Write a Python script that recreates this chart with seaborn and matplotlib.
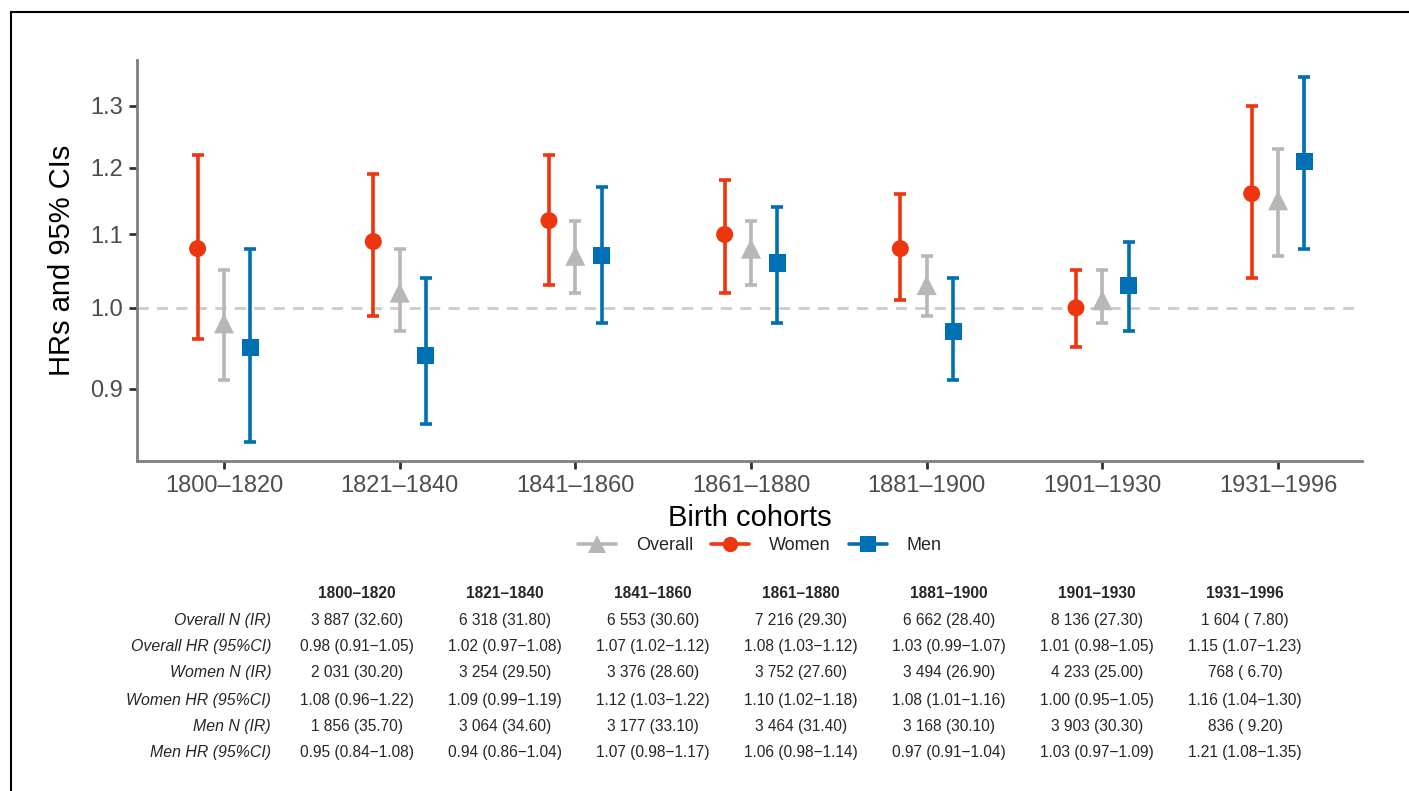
import numpy as np
import pandas as pd
import matplotlib
matplotlib.use("Agg")
import matplotlib.pyplot as plt
from matplotlib.lines import Line2D
from matplotlib.patches import Rectangle
import seaborn as sns

cohorts = ["1800\u20131820", "1821\u20131840", "1841\u20131860", "1861\u20131880",
           "1881\u20131900", "1901\u20131930", "1931\u20131996"]

overall_hr = [0.98, 1.02, 1.07, 1.08, 1.03, 1.01, 1.15]
overall_lo = [0.91, 0.97, 1.02, 1.03, 0.99, 0.98, 1.07]
overall_hi = [1.05, 1.08, 1.12, 1.12, 1.07, 1.05, 1.23]
overall_n = ["3 887 (32.60)", "6 318 (31.80)", "6 553 (30.60)", "7 216 (29.30)",
             "6 662 (28.40)", "8 136 (27.30)", "1 604 ( 7.80)"]

women_hr = [1.08, 1.09, 1.12, 1.10, 1.08, 1.00, 1.16]
women_lo = [0.96, 0.99, 1.03, 1.02, 1.01, 0.95, 1.04]
women_hi = [1.22, 1.19, 1.22, 1.18, 1.16, 1.05, 1.30]
women_n = ["2 031 (30.20)", "3 254 (29.50)", "3 376 (28.60)", "3 752 (27.60)",
           "3 494 (26.90)", "4 233 (25.00)", "768 ( 6.70)"]

men_hr = [0.95, 0.94, 1.07, 1.06, 0.97, 1.03, 1.21]
men_lo = [0.84, 0.86, 0.98, 0.98, 0.91, 0.97, 1.08]
men_hi = [1.08, 1.04, 1.17, 1.14, 1.04, 1.09, 1.35]
men_n = ["1 856 (35.70)", "3 064 (34.60)", "3 177 (33.10)", "3 464 (31.40)",
         "3 168 (30.10)", "3 903 (30.30)", "836 ( 9.20)"]

yticks = [0.9, 1.0, 1.1, 1.2, 1.3]
row_labels = ["Overall N (IR)", "Overall HR (95%CI)", "Women N (IR)",
              "Women HR (95%CI)", "Men N (IR)", "Men HR (95%CI)"]

groups = ["Women", "Overall", "Men"]
colors = {"Overall": "#B9B6B6", "Women": "#EE360E", "Men": "#0070B4"}
markers = {"Overall": "^", "Women": "o", "Men": "s"}
msize = {"Overall": 210, "Women": 150, "Men": 150}
offsets = {"Women": -0.15, "Overall": 0.0, "Men": 0.15}

rows = []
for g, hr, lo, hi in [("Overall", overall_hr, overall_lo, overall_hi),
                      ("Women", women_hr, women_lo, women_hi),
                      ("Men", men_hr, men_lo, men_hi)]:
    for i, c in enumerate(cohorts):
        rows.append(dict(group=g, cohort=c, idx=i, hr=hr[i], lo=lo[i], hi=hi[i]))
df = pd.DataFrame(rows)
df["x"] = df["idx"] + df["group"].map(offsets)

sns.set_theme(style="white")
plt.rcParams["font.family"] = ["Liberation Sans", "DejaVu Sans"]

W, H = 1409, 791
fig = plt.figure(figsize=(W / 100, H / 100), dpi=100)
ax = fig.add_axes([137 / W, 1 - 461 / H, (1362 - 137) / W, (461 - 60) / H])

ax.set_yscale("log")
ax.axhline(1.0, color="#CCCCCC", lw=2, ls=(0, (4, 3)), zorder=1)

for g in groups:
    sub = df[df.group == g]
    ax.errorbar(sub["x"], sub["hr"],
                yerr=[sub["hr"] - sub["lo"], sub["hi"] - sub["hr"]],
                fmt="none", ecolor=colors[g], elinewidth=2.6, capsize=4.5,
                capthick=2.6, zorder=2)
    sns.scatterplot(data=sub, x="x", y="hr", ax=ax, color=colors[g],
                    marker=markers[g], s=msize[g], edgecolor="none",
                    linewidth=0, zorder=3, legend=False)

ax.set_ylim(0.8195, 1.380)
ax.set_xlim(-0.495, 6.478)
ax.set_xticks(range(len(cohorts)))
ax.set_xticklabels(cohorts)
ax.yaxis.set_major_locator(matplotlib.ticker.FixedLocator(yticks))
ax.yaxis.set_minor_locator(matplotlib.ticker.NullLocator())
ax.set_yticklabels([f"{v:.1f}" for v in yticks])

for s in ["top", "right"]:
    ax.spines[s].set_visible(False)
for s in ["left", "bottom"]:
    ax.spines[s].set_color("#7F7F7F")
    ax.spines[s].set_linewidth(2)
ax.tick_params(axis="both", which="major", length=6, width=2, color="#333333",
               labelsize=17, labelcolor="#4D4D4D", direction="out",
               left=True, bottom=True, pad=4)
ax.set_xlabel("Birth cohorts", fontsize=21, color="black", labelpad=5)
ax.set_ylabel("HRs and 95% CIs", fontsize=21, color="black", labelpad=10)
ax.grid(False)

handles = []
for g in ["Overall", "Women", "Men"]:
    handles.append(Line2D([0], [0], color=colors[g], lw=2.6, marker=markers[g],
                          markersize=11 if g != "Overall" else 13,
                          markeredgewidth=0, label=g))
fig.legend(handles=handles, loc="center", bbox_to_anchor=(760 / W, 1 - 546 / H),
           ncol=3, frameon=False, fontsize=13, handlelength=2.1,
           columnspacing=1.0, handletextpad=1.1)

# table
col_x = [357, 505, 653, 801, 949, 1097, 1245]
header_y = 593
row_y = [620, 647, 673, 700, 727, 753]
for cx, c in zip(col_x, cohorts):
    fig.text(cx / W, 1 - header_y / H, c, ha="center", va="center",
             fontsize=11.2, fontweight="bold")
table_vals = [
    overall_n,
    [f"{h:.2f} ({l:.2f}\u2212{u:.2f})" for h, l, u in zip(overall_hr, overall_lo, overall_hi)],
    women_n,
    [f"{h:.2f} ({l:.2f}\u2212{u:.2f})" for h, l, u in zip(women_hr, women_lo, women_hi)],
    men_n,
    [f"{h:.2f} ({l:.2f}\u2212{u:.2f})" for h, l, u in zip(men_hr, men_lo, men_hi)],
]
for ry, lab, vals in zip(row_y, row_labels, table_vals):
    fig.text(271 / W, 1 - ry / H, lab, ha="right", va="center", fontsize=11.4,
             fontstyle="italic")
    for cx, v in zip(col_x, vals):
        fig.text(cx / W, 1 - ry / H, v, ha="center", va="center", fontsize=11.2)

# outer frame (cropped at right and bottom)
fig.patches.append(Rectangle((10.5 / W, -0.1), 1.2, 1 - 11.5 / H + 0.1,
                             transform=fig.transFigure, fill=False,
                             edgecolor="black", lw=1.5))

fig.savefig("out.png", dpi=100)
